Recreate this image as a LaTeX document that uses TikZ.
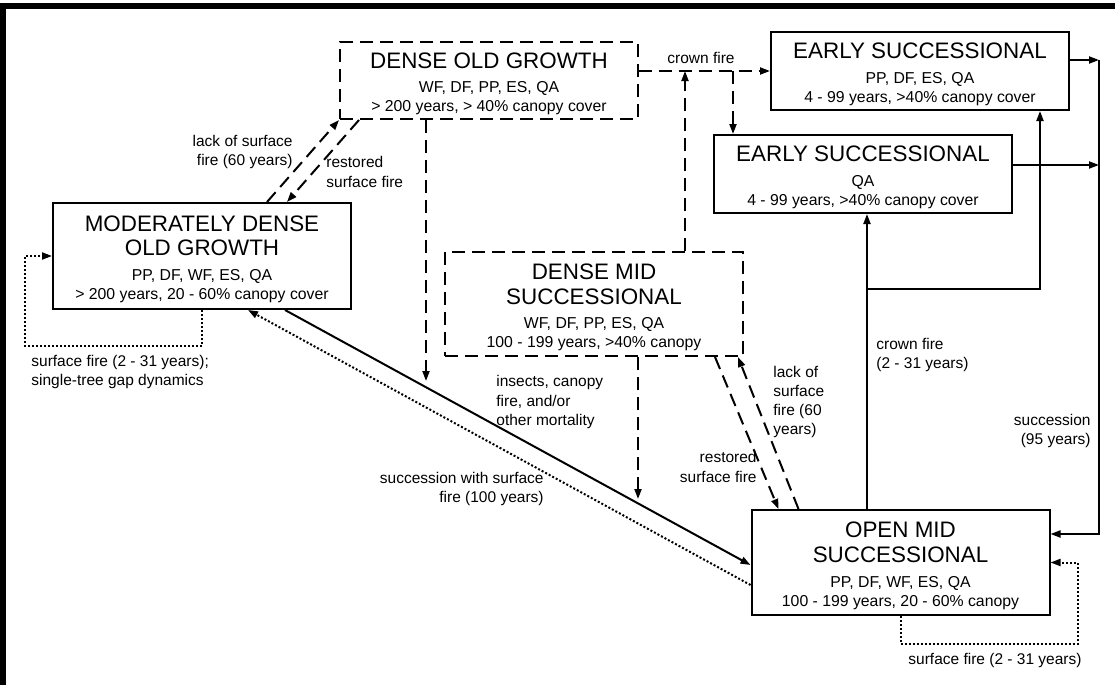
\documentclass[tikz,border=0pt]{standalone}
\usepackage{fontspec}
\setmainfont{Liberation Sans}
\usetikzlibrary{calc,arrows.meta}
\newcommand{\boxtitle}[1]{{\fontsize{11.2}{12}\selectfont #1}}
\newcommand{\topstrut}{\rule{0pt}{11pt}}

\begin{document}
\begin{tikzpicture}[x=0.5pt,y=-0.5pt,
  every node/.style={font=\fontsize{7.75}{9.6}\selectfont},
  stand/.style={draw,line width=1pt,minimum width=149pt,inner sep=0pt,align=center,font=\fontsize{7.9}{9.4}\selectfont},
  dstand/.style={stand,dash pattern=on 6.5pt off 3.5pt},
  lbl/.style={inner sep=0pt},
  link/.style={line width=1pt,-{Triangle[length=5pt,width=3.5pt]}},
  dashlink/.style={link,dash pattern=on 6.5pt off 3.5pt},
  dotlink/.style={link,dash pattern=on 1pt off 1pt}]
\useasboundingbox (0,0) rectangle (1115,685);
\draw[line width=2.75pt] (2.75,685) -- (2.75,6) -- (1115,6); %%frame

\node[dstand,minimum height=38.5pt] (DOG) at (489,80.5) {\topstrut\boxtitle{DENSE OLD GROWTH}\\[3pt] WF, DF, PP, ES, QA\\ > 200 years, > 40\% canopy cover};
\node[stand,minimum height=39pt] (ES) at (920,71) {\topstrut\boxtitle{EARLY SUCCESSIONAL}\\[3pt] PP, DF, ES, QA\\ 4 - 99 years, >40\% canopy cover};
\node[stand,minimum height=39pt] (ESQ) at (863,174) {\topstrut\boxtitle{EARLY SUCCESSIONAL}\\[3pt] QA\\ 4 - 99 years, >40\% canopy cover};
\node[stand,minimum height=53pt] (MDOG) at (202,256) {\topstrut\boxtitle{MODERATELY DENSE}\\[3pt]\boxtitle{OLD GROWTH}\\[3pt] PP, DF, WF, ES, QA\\ > 200 years, 20 - 60\% canopy cover};
\node[dstand,minimum height=52pt] (DMS) at (594,304) {\topstrut\boxtitle{DENSE MID}\\[3.5pt]\boxtitle{SUCCESSIONAL}\\[2.5pt] WF, DF, PP, ES, QA\\ 100 - 199 years, >40\% canopy};
\node[stand,minimum height=52.5pt] (OMS) at (900.5,562.5) {\topstrut\boxtitle{OPEN MID}\\[3.5pt]\boxtitle{SUCCESSIONAL}\\[3pt] PP, DF, WF, ES, QA\\ 100 - 199 years, 20 - 60\% canopy};

%% crown fire from dense old growth
\draw[dashlink] (DOG.east |- ES.west) -- (ES.west);
\coordinate (crown) at (733,71);
\draw[dashlink] (crown) -- (crown |- ESQ.north);
\coordinate (dmsup) at ($(DMS.north)+(91,0)$);
\draw[dashlink] (dmsup) -- (dmsup |- ES.west);
\coordinate (dogdown) at ($(DOG.south west)+(87,0)$);
\draw[dashlink] (dogdown) -- ++(0,261);

%% old growth pair
\draw[dashlink] ($(MDOG.north)+(65,0)$) -- (DOG.south west);
\draw[dashlink] ($(DOG.south west)+(20,0)$) -- ($(MDOG.north)+(85,0)$);
\draw[link] ($(MDOG.south)+(83,0)$) -- ($(OMS.west)+(0,2.5)$);
\draw[dotlink] ($(OMS.west)+(0,22.5)$) -- ($(MDOG.south)+(46,0)$);
\draw[dotlink] (MDOG.south) -- ++(0,36) -- ++(-177,0) |- (MDOG.west); %%loop

%% mid successional pair
\draw[dashlink] ($(DMS.south)+(121,0)$) -- ($(OMS.north west)+(28,0)$);
\draw[dashlink] ($(OMS.north west)+(48,0)$) -- ($(DMS.south east)+(-6,0)$);
\draw[dashlink] ($(DMS.south)+(44,0)$) -- ++(0,142);

%% open mid to early
\coordinate (omsup) at ($(OMS.north)+(-33.5,0)$);
\draw[link] (omsup) -- (omsup |- ESQ.south);
\coordinate (fork) at ($(omsup)+(0,-220)$);
\draw[link] (fork) -| ($(ES.south)+(120,0)$);

%% succession rail
\coordinate (rail) at ($(ES.east)+(29,-11)$);
\draw[link] ($(ES.east)+(0,-11)$) -- (rail);
\coordinate (esqout) at ($(ESQ.east)+(0,-9)$);
\draw[link] (esqout) -- (esqout -| rail);
\draw[link] (rail) |- ($(OMS.east)+(0,-28.5)$);
\draw[dotlink] (OMS.south) -- ++(0,28) -- ++(177,0) |- (OMS.east); %%loop

\node[lbl] (L0) at (701,58) {crown fire};
\node[lbl,anchor=east,align=right] (L1) at (293,152) {lack of surface\\fire (60 years)};
\node[lbl,anchor=west,align=left] (L2) at (326,172) {restored\\surface fire};
\node[lbl,anchor=west,align=left] (L3) at (31,372) {surface fire (2 - 31 years);\\single-tree gap dynamics};
\node[lbl,anchor=east,align=right] (L4) at (544,489) {succession with surface\\fire (100 years)};
\node[lbl,anchor=west,align=left] (L5) at (496,402) {insects, canopy\\fire, and/or\\other mortality};
\node[lbl,anchor=east,align=right] (L6) at (757,467) {restored\\surface fire};
\node[lbl,anchor=west,align=left] (L7) at (773,402) {lack of\\surface\\fire (60\\years)};
\node[lbl,anchor=west,align=left] (L8) at (876,355) {crown fire\\(2 - 31 years)};
\node[lbl,anchor=east,align=right] (L9) at (1091,431) {succession\\(95 years)};
\node[lbl] (L10) at (995,660) {surface fire (2 - 31 years)};
\end{tikzpicture}
\end{document}
